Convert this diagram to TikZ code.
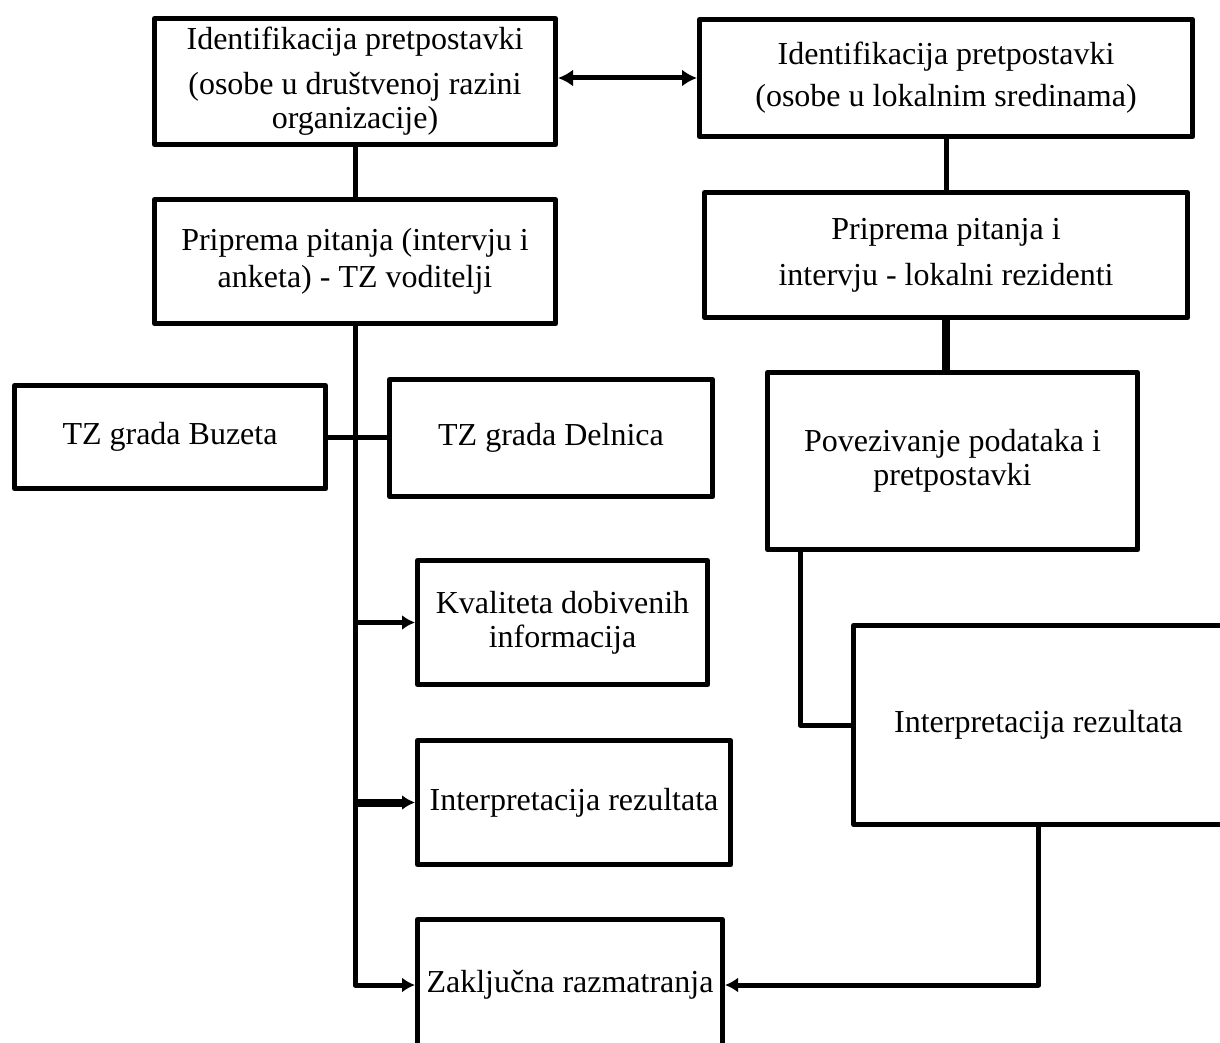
\documentclass[tikz,border=0pt]{standalone}
\usepackage{fontspec}
\setmainfont{Liberation Serif}
\usetikzlibrary{arrows.meta,shadows}
\begin{document}
\begin{tikzpicture}[x=.5pt,y=-.5pt,line join=round,
  okvir/.style={draw,line width=2.5pt,fill=white,align=center,inner sep=0pt,
    font=\fontsize{16}{17}\selectfont,
    drop shadow={shadow xshift=1pt,shadow yshift=-1.2pt,opacity=.25}},
  veza/.style={line width=2.5pt},
  strelica/.style={veza,-{Latex[length=6.5pt,width=7.5pt]}}]
  \useasboundingbox (0,0) rectangle (1220,1043);
  \clip (0,0) rectangle (1220,1043);
  \node[okvir,minimum width=200.5pt,minimum height=63pt] (idDrustvo) at (355,81.5)
    {Identifikacija pretpostavki\\[5.5pt](osobe u društvenoj razini\\organizacije)};
  \node[okvir,minimum width=246.5pt,minimum height=58.5pt] (idLokal) at (946,78)
    {Identifikacija pretpostavki\\[4pt](osobe u lokalnim sredinama)};
  \node[okvir,minimum width=200.5pt,minimum height=62pt] (pitTZ) at (355,261.5)
    {Priprema pitanja (intervju i\\[1.5pt]anketa) - TZ voditelji};
  \node[okvir,minimum width=241.5pt,minimum height=62.5pt] (pitRez) at (946,255)
    {Priprema pitanja i\\[6pt]intervju - lokalni rezidenti};
  \node[okvir,minimum width=155.5pt,minimum height=51.5pt] (buzet) at (170,437) {TZ grada Buzeta};
  \node[okvir,minimum width=161.5pt,minimum height=58.5pt] (delnice) at (551,438) {TZ grada Delnica};
  \node[okvir,minimum width=185pt,minimum height=88.5pt] (povez) at (952.5,461)
    {Povezivanje podataka i\\pretpostavki};
  \node[okvir,minimum width=145pt,minimum height=62pt] (kval) at (562.5,622.5)
    {Kvaliteta dobivenih\\informacija};
  \node[okvir,minimum width=185pt,minimum height=99.5pt] (interpDesno) at (1038.5,725)
    {Interpretacija rezultata};
  \node[okvir,minimum width=156.5pt,minimum height=62pt] (interpLijevo) at (574,802.5)
    {Interpretacija rezultata};
  \node[okvir,minimum width=152.5pt,minimum height=65.5pt] (zakljucak) at (570,985)
    {Zaključna razmatranja};
  \draw[veza,{Latex[length=7.5pt,width=8.5pt]}-{Latex[length=7.5pt,width=8.5pt]}]
    (idDrustvo.east |- idLokal.west) -- (idLokal.west);
  \draw[veza] (idDrustvo.south) -- (pitTZ.north);
  \draw[veza] (idLokal.south) -- (pitRez.north);
  \draw[line width=4pt] (pitRez.south) -- (pitRez.south |- povez.north);
  \draw[strelica] (pitTZ.south) |- (zakljucak.west);
  \draw[veza] (buzet.east) -- (buzet.east -| delnice.west);
  \draw[strelica] (pitTZ.south |- kval.west) -- (kval.west);
  \draw[strelica,line width=4pt] (pitTZ.south |- interpLijevo.west) -- (interpLijevo.west);
  \draw[veza] (povez.south west) ++(35,0) |- (interpDesno.west);
  \draw[strelica] (interpDesno.south) |- (zakljucak.east);
\end{tikzpicture}
\end{document}
